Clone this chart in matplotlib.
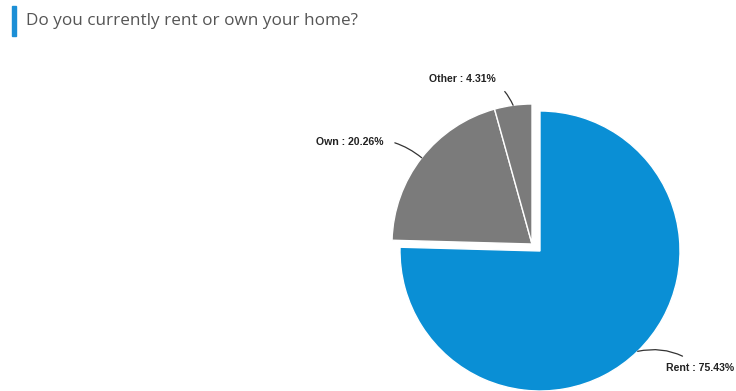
import numpy as np
import matplotlib.pyplot as plt

# Survey answers
labels = ["Rent", "Own", "Other"]
shares = [75.43, 20.26, 4.31]
colors = ["#0a8fd5", "#7b7b7b", "#7b7b7b"]

W, H = 736, 391
fig = plt.figure(figsize=(W / 100, H / 100), dpi=100)
ax = fig.add_axes([0, 0, 1, 1])

# Pie in pixel-like coordinates (y up)
cx, cy, r = 540, H - 251, 140
wedges, _ = ax.pie(shares, colors=colors, startangle=90, counterclock=False,
                   center=(cx, cy), radius=r, frame=True,
                   wedgeprops=dict(edgecolor="white", linewidth=1))
ax.set_xlim(0, W)
ax.set_ylim(0, H)
ax.set_aspect("equal")
ax.axis("off")

# Own and Other pulled out together towards the upper left
shift = (-8, 7)
for w in wedges[1:]:
    w.set_center((cx + shift[0], cy + shift[1]))

# Label placement for each slice: text anchor and curve bend
label_pos = {"Rent": (666, H - 368), "Own": (384, H - 142), "Other": (496, H - 79)}
label_ha = {"Rent": "left", "Own": "right", "Other": "right"}
bend = {"Rent": 0.25, "Own": -0.25, "Other": -0.4}
for w, name, val in zip(wedges, labels, shares):
    mid = np.deg2rad((w.theta1 + w.theta2) / 2)
    wx, wy = w.center
    edge = (wx + r * np.cos(mid), wy + r * np.sin(mid))
    tx, ty = label_pos[name]
    ax.annotate(f"{name} : {val:.2f}%", xy=edge, xytext=(tx, ty),
                ha=label_ha[name], va="center", fontsize=7.6, fontweight="bold",
                family="Liberation Sans", color="#222222",
                arrowprops=dict(arrowstyle="-", color="#333333", lw=0.9,
                                shrinkA=6, shrinkB=0,
                                connectionstyle=f"arc3,rad={bend[name]}"))

# Title with accent bar
fig.patches.append(plt.Rectangle((12 / W, 1 - 36 / H), 4 / W, 30 / H,
                                 transform=fig.transFigure, color="#1c8fd6"))
fig.text(26 / W, 1 - 21 / H, "Do you currently rent or own your home?",
         fontsize=12.3, family="Open Sans", color="#555555", va="center")

fig.savefig("out.png", dpi=100, facecolor="white")
